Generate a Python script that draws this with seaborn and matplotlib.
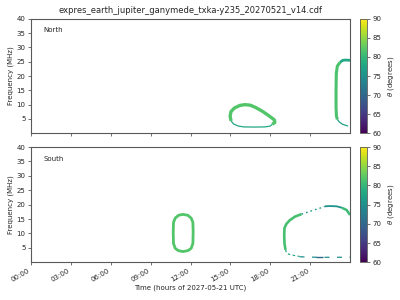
import numpy as np
import pandas as pd
import matplotlib
matplotlib.use("Agg")
import matplotlib.pyplot as plt
import matplotlib as mpl
import seaborn as sns

# ---------------- data (hours of day, MHz, theta in degrees) ----------------
# North hemisphere
north_a_top_t = [15.05, 14.98, 15.05, 15.3, 15.7, 16.1, 16.5, 16.9, 17.4, 17.9, 18.3, 18.35, 18.15]
north_a_top_f = [4.3, 6.0, 7.6, 8.8, 9.7, 10.0, 9.8, 9.0, 7.7, 6.1, 4.7, 3.8, 3.1]
north_a_top_theta = 81.8

north_a_bot_t = [15.05, 15.25, 15.6, 16.0, 16.8, 17.6, 18.0, 18.15]
north_a_bot_f = [4.3, 3.2, 2.5, 2.2, 2.15, 2.2, 2.5, 3.1]
north_a_bot_theta = 78.0

north_b_side_t = [23.25, 23.05, 22.97, 22.95, 22.95, 22.98, 23.05]
north_b_side_f = [24.8, 23.5, 21.0, 15.0, 9.0, 6.0, 4.8]
north_b_side_theta = 81.5

north_b_top_t = [23.25, 23.45, 23.65, 24.0]
north_b_top_f = [24.8, 25.5, 25.6, 25.5]
north_b_top_theta = 78.0

north_b_bot_t = [23.05, 23.2, 23.45, 23.85]
north_b_bot_f = [4.8, 3.9, 3.1, 2.5]
north_b_bot_theta = 77.5

# South hemisphere
south_a_t = [10.7, 10.72, 10.85, 11.1, 11.43, 11.8, 12.05, 12.18, 12.2, 12.18, 12.05, 11.8, 11.43, 11.1, 10.85, 10.72, 10.7]
south_a_f = [10.5, 13.8, 15.3, 16.3, 16.6, 16.3, 15.3, 13.8, 10.5, 6.5, 4.8, 4.0, 3.7, 4.0, 4.8, 6.5, 10.5]
south_a_theta = 81.8

south_b_side_t = [19.15, 19.07, 19.05, 19.07, 19.2, 19.45, 19.85, 20.35]
south_b_side_f = [4.3, 6.5, 9.5, 11.8, 13.2, 14.5, 15.8, 16.7]
south_b_side_theta = 81.2

south_b_dot_t = [20.35, 20.9, 21.4, 21.9, 22.1]
south_b_dot_f = [16.7, 17.5, 18.3, 19.0, 19.4]
south_b_dot_theta = 76.0

south_b_top_t = [22.1, 22.5, 23.0, 23.4]
south_b_top_f = [19.4, 19.5, 19.4, 18.9]
south_b_top_theta = 75.5

south_b_right_t = [23.4, 23.75, 24.0]
south_b_right_f = [18.9, 18.1, 16.4]
south_b_right_theta = 80.5

south_b_bot_t = [19.15, 19.23, 19.45, 19.72, 20.2]
south_b_bot_f = [4.3, 3.1, 2.7, 2.4, 2.0]
south_b_bot_theta = 78.0

south_b_dash_t = [20.2, 21.0, 22.0, 23.0, 24.0]
south_b_dash_f = [1.9, 1.75, 1.7, 1.7, 1.75]
south_b_dash_theta = 75.0

south_b_dash2_t = [21.45, 21.95]
south_b_dash2_f = [1.7, 1.7]
south_b_dash2_theta = 70.0

hour_ticks = [0, 3, 6, 9, 12, 15, 18, 21]
hour_labels = ["00:00", "03:00", "06:00", "09:00", "12:00", "15:00", "18:00", "21:00"]
freq_ticks = [5, 10, 15, 20, 25, 30, 35, 40]
theta_ticks = [60, 65, 70, 75, 80, 85, 90]

# ---------------- styling ----------------
sns.set_theme(style="ticks")
plt.rcParams['font.family'] = ['DejaVu Sans']
EDGE = '0.35'
cmap = mpl.colormaps['viridis']
norm = mpl.colors.Normalize(vmin=60, vmax=90)

fig = plt.figure(figsize=(4, 3), dpi=100)
ax_n = fig.add_axes([0.0775, 0.556, 0.7975, 0.381])
ax_s = fig.add_axes([0.0775, 0.126, 0.7975, 0.384])
cax_n = fig.add_axes([0.9, 0.556, 0.018, 0.381])
cax_s = fig.add_axes([0.9, 0.126, 0.018, 0.384])


def draw(ax, t, f, theta, lw, ls='-'):
    df = pd.DataFrame({"t": t, "f": f})
    sns.lineplot(data=df, x="t", y="f", ax=ax, sort=False, estimator=None,
                 color=cmap(norm(theta)), lw=lw, ls=ls, solid_capstyle='butt',
                 dash_capstyle='butt')


draw(ax_n, north_a_top_t, north_a_top_f, north_a_top_theta, 2.4)
draw(ax_n, north_a_bot_t, north_a_bot_f, north_a_bot_theta, 0.9)
draw(ax_n, north_b_side_t, north_b_side_f, north_b_side_theta, 2.2)
draw(ax_n, north_b_top_t, north_b_top_f, north_b_top_theta, 2.0)
draw(ax_n, north_b_bot_t, north_b_bot_f, north_b_bot_theta, 0.9)

draw(ax_s, south_a_t, south_a_f, south_a_theta, 2.0)
draw(ax_s, south_b_side_t, south_b_side_f, south_b_side_theta, 1.9)
draw(ax_s, south_b_dot_t, south_b_dot_f, south_b_dot_theta, 1.0, (0, (1.2, 2.2)))
draw(ax_s, south_b_top_t, south_b_top_f, south_b_top_theta, 1.3)
draw(ax_s, south_b_right_t, south_b_right_f, south_b_right_theta, 1.8)
draw(ax_s, south_b_bot_t, south_b_bot_f, south_b_bot_theta, 0.9, (0, (2, 2)))
draw(ax_s, south_b_dash_t, south_b_dash_f, south_b_dash_theta, 0.9, (0, (4, 6)))
draw(ax_s, south_b_dash2_t, south_b_dash2_f, south_b_dash2_theta, 1.0)

for ax, name in ((ax_n, "North"), (ax_s, "South")):
    ax.set_xlim(0, 24)
    ax.set_ylim(0, 40)
    ax.set_xticks(hour_ticks)
    ax.set_yticks(freq_ticks)
    ax.set_ylabel("Frequency (MHz)", fontsize=5, labelpad=2)
    ax.tick_params(labelsize=5, length=2.5, width=0.6, color=EDGE, pad=1.5)
    for sp in ax.spines.values():
        sp.set_visible(True)
        sp.set_color(EDGE)
        sp.set_linewidth(0.8)
    ax.text(0.04, 0.9, name, transform=ax.transAxes, fontsize=5, va='center')

ax_n.set_xticklabels([])
ax_n.set_xlabel("")
ax_s.set_xticklabels(hour_labels, rotation=30, ha='right')
ax_s.set_xlabel("Time (hours of 2027-05-21 UTC)", fontsize=5, labelpad=1)
ax_n.set_title("expres_earth_jupiter_ganymede_txka-y235_20270521_v14.cdf",
               fontsize=6, pad=4)

for cax in (cax_n, cax_s):
    sm = mpl.cm.ScalarMappable(norm=norm, cmap=cmap)
    cb = fig.colorbar(sm, cax=cax, ticks=theta_ticks)
    cb.outline.set_edgecolor(EDGE)
    cb.outline.set_linewidth(0.6)
    cb.ax.tick_params(labelsize=5, length=2.5, width=0.6, color=EDGE, pad=1.5)
    cb.set_label(r"$\theta$ (degrees)", fontsize=5, labelpad=3)

fig.savefig("out.png", dpi=100)
